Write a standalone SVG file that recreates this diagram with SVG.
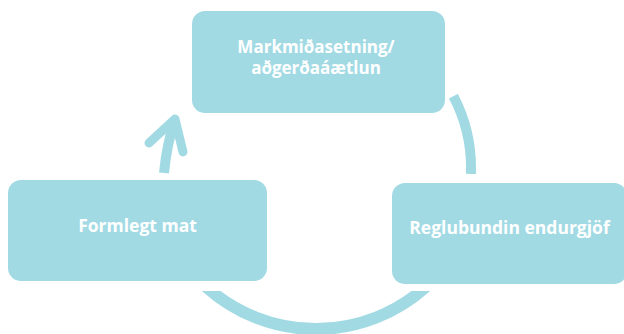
<svg xmlns="http://www.w3.org/2000/svg" width="624" height="334" viewBox="0 0 624 334">
  <defs>
    <style>
      .box { fill: #a2dae4; }
      .label { fill: #ffffff; font-family: "Open Sans", "Liberation Sans", sans-serif; font-weight: 700; font-size: 17.5px; text-anchor: middle; }
      .label.two-line { font-size: 17px; }
      .ring { fill: none; stroke: #a2dae4; }
    </style>
    <clipPath id="clip-bottom">
      <rect x="0" y="291" width="624" height="43"/>
    </clipPath>
    <clipPath id="clip-right">
      <rect x="440" y="94" width="60" height="80"/>
    </clipPath>
  </defs>
  <rect width="624" height="334" fill="#ffffff"/>

  <g id="connectors">
    <!-- right arc: plan -> feedback -->
    <path class="ring" stroke-width="10" d="M 453.4 96.2 A 155 155 0 0 1 470.9 174" clip-path="url(#clip-right)"/>
    <!-- bottom arc: feedback -> formal evaluation -->
    <circle class="ring" stroke-width="12" cx="316" cy="165" r="164" clip-path="url(#clip-bottom)"/>
    <!-- left arrow: formal evaluation -> plan -->
    <path class="ring" stroke-width="10" d="M 164 173 Q 167 142 175 121"/>
    <polyline class="ring" stroke-width="9" stroke-linecap="round" stroke-linejoin="round" points="149,143 175,119 183,152"/>
  </g>

  <g id="node-plan">
    <rect class="box" x="192" y="11" width="253" height="102" rx="13"/>
    <text class="label two-line" x="316" y="52.5">Markmiðasetning/</text>
    <text class="label two-line" x="316" y="73.5">aðgerðaáætlun</text>
  </g>

  <g id="node-formal">
    <rect class="box" x="8" y="180" width="259" height="101" rx="13"/>
    <text class="label" x="137.5" y="232">Formlegt mat</text>
  </g>

  <g id="node-feedback">
    <rect class="box" x="392" y="183" width="235" height="101" rx="13"/>
    <text class="label" x="509.5" y="234">Reglubundin endurgjöf</text>
  </g>
</svg>
